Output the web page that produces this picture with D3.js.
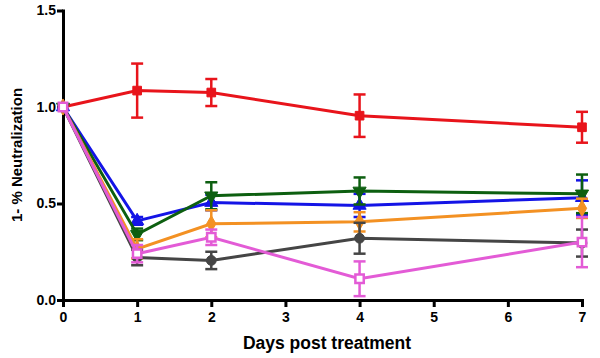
<!DOCTYPE html>
<meta charset="utf-8">
<style>
    body { margin: 0; background: #fff; }
    svg { display: block; }
    .axis path, .axis line { stroke: #000; stroke-width: 3px; }
    .axis text { font: bold 14px 'Liberation Sans', Arial, sans-serif; fill: #000; }
    .title { font: bold 17.5px 'Liberation Sans', Arial, sans-serif; fill: #000; }
    .ytitle { font: bold 15px 'Liberation Sans', Arial, sans-serif; fill: #000; }
</style>
<svg width="600" height="358"></svg>
<script src="https://d3js.org/d3.v7.min.js"></script>
<script>

    var days = [0, 1, 2, 4, 7];
    var xTicks = [0, 1, 2, 3, 4, 5, 6, 7];
    var yTicks = [0, 0.5, 1.0, 1.5];

    // mean and error (+/-) per series
    var redMean = [1.0, 1.085, 1.075, 0.955, 0.895];
    var redErr = [0, 0.14, 0.07, 0.11, 0.08];
    var blueMean = [1.0, 0.41, 0.505, 0.49, 0.53];
    var blueErr = [0, 0.02, 0.04, 0.06, 0.09];
    var greenMean = [1.0, 0.34, 0.54, 0.565, 0.55];
    var greenErr = [0, 0.03, 0.07, 0.07, 0.1];
    var orangeMean = [1.0, 0.265, 0.395, 0.405, 0.475];
    var orangeErr = [0, 0.05, 0.07, 0.05, 0.05];
    var grayMean = [1.0, 0.22, 0.205, 0.32, 0.295];
    var grayErr = [0, 0.04, 0.045, 0.08, 0.07];
    var pinkMean = [1.0, 0.24, 0.325, 0.11, 0.30];
    var pinkErr = [0, 0.045, 0.04, 0.09, 0.13];

    var series = [
        {color: "#e8141b", mean: redMean, err: redErr, shape: "square"},
        {color: "#1414e6", mean: blueMean, err: blueErr, shape: "triUp"},
        {color: "#0d5f10", mean: greenMean, err: greenErr, shape: "triDown"},
        {color: "#f39123", mean: orangeMean, err: orangeErr, shape: "diamond"},
        {color: "#454545", mean: grayMean, err: grayErr, shape: "circle"},
        {color: "#e35bd6", mean: pinkMean, err: pinkErr, shape: "openSquare"}
    ];

    var svg = d3.select("svg");
    var x = d3.scaleLinear().domain([0, 7]).range([63, 582]);
    var y = d3.scaleLinear().domain([0, 1.5]).range([300, 10.5]);

    svg.append("g")
        .attr("class", "axis")
        .attr("transform", "translate(0,300)")
        .call(d3.axisBottom(x).tickValues(xTicks).tickFormat(d3.format("d")).tickSize(7).tickPadding(5).tickSizeOuter(0));

    svg.append("g")
        .attr("class", "axis")
        .attr("transform", "translate(63,0)")
        .call(d3.axisLeft(y).tickValues(yTicks).tickFormat(d3.format(".1f")).tickSize(6).tickPadding(1).tickSizeOuter(0));

    svg.selectAll(".axis .domain").attr("stroke-linecap", "square");

    var line = d3.line()
        .x(function(d) { return x(d.day); })
        .y(function(d) { return y(d.v); });

    var symbols = {
        square: d3.symbolSquare,
        openSquare: d3.symbolSquare,
        triUp: d3.symbolTriangle,
        triDown: d3.symbolTriangle,
        diamond: d3.symbolDiamond,
        circle: d3.symbolCircle
    };

    series.forEach(function(s) {
        var pts = days.map(function(d, i) { return {day: d, v: s.mean[i], e: s.err[i]}; });
        var g = svg.append("g");

        g.append("path")
            .datum(pts)
            .attr("fill", "none")
            .attr("stroke", s.color)
            .attr("stroke-width", 3)
            .attr("d", line);

        var eb = g.selectAll(".err")
            .data(pts.filter(function(p) { return p.e > 0; }))
            .enter().append("g");

        eb.append("line")
            .attr("x1", function(p) { return x(p.day); })
            .attr("x2", function(p) { return x(p.day); })
            .attr("y1", function(p) { return y(p.v + p.e); })
            .attr("y2", function(p) { return y(p.v - p.e); })
            .attr("stroke", s.color).attr("stroke-width", 2.5);

        [1, -1].forEach(function(sign) {
            eb.append("line")
                .attr("x1", function(p) { return x(p.day) - 6; })
                .attr("x2", function(p) { return x(p.day) + 6; })
                .attr("y1", function(p) { return y(p.v + sign * p.e); })
                .attr("y2", function(p) { return y(p.v + sign * p.e); })
                .attr("stroke", s.color).attr("stroke-width", 2.5);
        });

        var open = s.shape === "openSquare";
        g.selectAll(".pt")
            .data(pts)
            .enter().append("path")
            .attr("transform", function(p) {
                return "translate(" + x(p.day) + "," + y(p.v) + ")" + (s.shape === "triDown" ? " rotate(180)" : "");
            })
            .attr("d", d3.symbol().type(symbols[s.shape]).size(open ? 70 : 75))
            .attr("fill", open ? "#fff" : s.color)
            .attr("stroke", s.color)
            .attr("stroke-width", open ? 2.5 : 1);
    });

    svg.append("text")
        .attr("class", "title")
        .attr("x", 327)
        .attr("y", 349)
        .attr("text-anchor", "middle")
        .text("Days post treatment");

    svg.append("text")
        .attr("class", "ytitle")
        .attr("transform", "translate(22,155) rotate(-90)")
        .attr("text-anchor", "middle")
        .text("1- % Neutralization");

</script>
